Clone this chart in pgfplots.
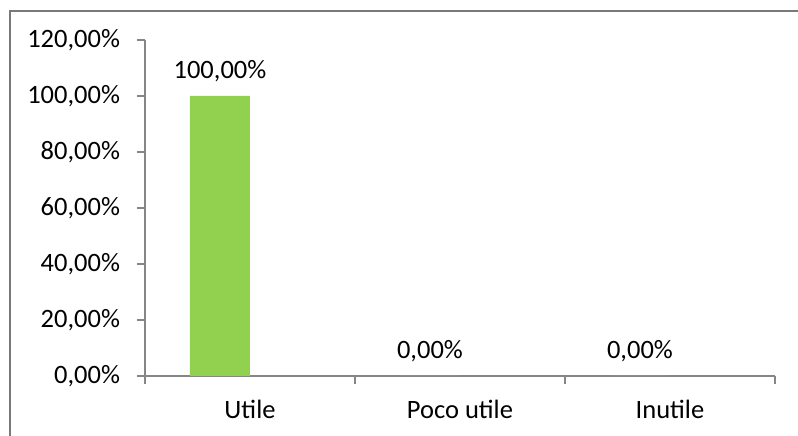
\documentclass[border=0pt]{standalone}
\usepackage{fontspec}
\setmainfont{Carlito}
\usepackage{pgfplots}
\pgfplotsset{compat=1.18}
\definecolor{barg}{HTML}{92D050}
\definecolor{axg}{HTML}{868686}
\begin{document}
\fontsize{26.5pt}{31pt}\selectfont
\begin{tikzpicture}
\useasboundingbox (0pt,0pt) rectangle (798pt,436pt);
\draw[axg!90!black, line width=1.5pt] (10pt,0pt) -- (10pt,425pt) -- (798pt,425pt);
\begin{axis}[
  at={(145pt,60pt)}, anchor=south west,
  scale only axis, width=630pt, height=336pt,
  xmin=0, xmax=3, ymin=0, ymax=120,
  axis x line=bottom, axis y line=left,
  axis line style={axg, line width=1.2pt, -},
  /pgf/number format/assume math mode=true,
  font=\fontsize{26.5pt}{31pt}\selectfont,
  ytick={0,20,...,120},
  yticklabel={\pgfmathprintnumber[fixed,fixed zerofill,precision=2,use comma]{\tick}\%},
  xtick={0.5,1.5,2.5},
  xticklabels={Utile,Poco utile,Inutile},
  minor xtick={0,1,2,3},
  major x tick style={draw=none},
  minor x tick style={axg, line width=1.2pt},
  y tick style={axg, line width=1.2pt},
  tick align=outside,
  major tick length=8pt, minor tick length=8pt,
  yticklabel style={xshift=-8pt},
  xticklabel style={yshift=-7pt},
  ybar, bar width=60pt,
  nodes near coords={\pgfmathprintnumber[fixed,fixed zerofill,precision=2,use comma]{\pgfplotspointmeta}\%},
  nodes near coords style={yshift=5pt, font=\fontsize{26.5pt}{31pt}\selectfont},
  clip=false,
]
\addplot[fill=barg, draw=none] coordinates {(0.357,100) (1.357,0) (2.357,0)};
\end{axis}
\end{tikzpicture}
\end{document}
